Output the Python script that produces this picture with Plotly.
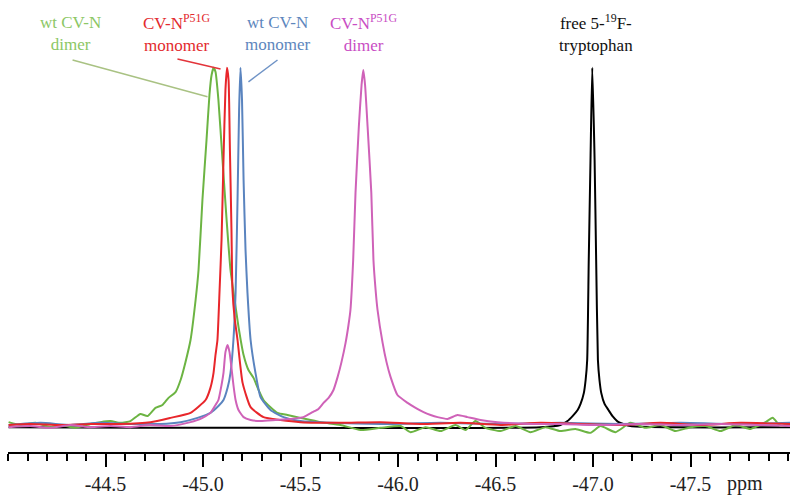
import plotly.graph_objects as go

# ---- data (chemical shift in ppm, normalised intensity) ----
green_ppm = [-44.003, -44.064, -44.141, -44.218, -44.269, -44.346, -44.423, -44.474, -44.526, -44.577,
             -44.628, -44.679, -44.715, -44.756, -44.792, -44.823, -44.859, -44.885, -44.910, -44.936,
             -44.962, -44.977, -44.997, -45.018, -45.033, -45.044, -45.054, -45.064, -45.079, -45.100,
             -45.121, -45.141, -45.162, -45.182, -45.208, -45.233, -45.259, -45.285, -45.310, -45.346,
             -45.382, -45.433, -45.500, -45.603, -45.705, -45.808, -45.910, -46.013, -46.064, -46.141,
             -46.218, -46.295, -46.346, -46.397, -46.449, -46.526, -46.603, -46.679, -46.756, -46.833,
             -46.910, -46.987, -47.038, -47.115, -47.192, -47.269, -47.346, -47.423, -47.500, -47.577,
             -47.654, -47.731, -47.808, -47.885, -47.921, -47.962, -48.013]
green_int = [0.008, 0.000, 0.006, -0.006, 0.000, -0.008, 0.003, 0.008, 0.011, 0.006,
             0.011, 0.031, 0.025, 0.048, 0.056, 0.076, 0.092, 0.126, 0.176, 0.238,
             0.350, 0.434, 0.630, 0.798, 0.924, 0.980, 1.000, 0.989, 0.910, 0.742,
             0.574, 0.434, 0.350, 0.275, 0.196, 0.154, 0.132, 0.098, 0.070, 0.050,
             0.034, 0.028, 0.020, 0.008, 0.000, -0.014, -0.008, -0.003, -0.020, -0.006,
             -0.017, 0.000, -0.014, 0.011, -0.008, -0.017, -0.003, -0.020, -0.006, -0.017,
             -0.011, -0.022, -0.003, -0.020, 0.006, -0.008, 0.000, -0.017, -0.006, -0.003,
             -0.017, 0.000, -0.011, 0.008, 0.020, -0.003, 0.006]

red_ppm = [-44.003, -44.115, -44.269, -44.423, -44.577, -44.731, -44.833, -44.936, -45.013, -45.038,
           -45.054, -45.064, -45.074, -45.085, -45.095, -45.105, -45.115, -45.123, -45.131, -45.138,
           -45.146, -45.151, -45.162, -45.177, -45.203, -45.244, -45.310, -45.397, -45.500, -45.705,
           -45.910, -46.115, -46.321, -46.526, -46.731, -46.936, -47.141, -47.346, -47.551, -47.756,
           -48.013]
red_int = [0.000, 0.003, 0.000, 0.003, 0.003, 0.008, 0.020, 0.034, 0.070, 0.104,
           0.146, 0.196, 0.238, 0.378, 0.518, 0.742, 0.938, 1.000, 0.966, 0.770,
           0.546, 0.378, 0.300, 0.238, 0.118, 0.050, 0.022, 0.014, 0.008, 0.006,
           0.008, 0.003, 0.006, 0.000, 0.006, 0.003, 0.000, 0.006, 0.000, 0.006,
           0.003]

blue_ppm = [-44.003, -44.167, -44.321, -44.474, -44.628, -44.782, -44.885, -44.972, -45.038, -45.079,
            -45.105, -45.126, -45.141, -45.156, -45.167, -45.177, -45.185, -45.192, -45.200, -45.208,
            -45.218, -45.228, -45.244, -45.269, -45.295, -45.346, -45.413, -45.500, -45.654, -45.910,
            -46.218, -46.526, -46.833, -47.141, -47.449, -47.756, -48.013]
blue_int = [0.000, 0.006, 0.000, 0.006, 0.003, 0.003, 0.008, 0.020, 0.034, 0.053,
            0.070, 0.104, 0.146, 0.238, 0.370, 0.630, 0.882, 1.000, 0.910, 0.686,
            0.490, 0.370, 0.238, 0.146, 0.078, 0.042, 0.022, 0.011, 0.006, 0.003,
            0.006, 0.003, 0.006, 0.003, 0.006, 0.003, 0.006]

magenta_ppm = [-44.003, -44.115, -44.218, -44.321, -44.423, -44.526, -44.628, -44.731, -44.833, -44.936,
               -44.987, -45.038, -45.064, -45.079, -45.095, -45.105, -45.115, -45.126, -45.136, -45.146,
               -45.156, -45.167, -45.182, -45.208, -45.244, -45.295, -45.372, -45.449, -45.515, -45.562,
               -45.592, -45.618, -45.644, -45.669, -45.690, -45.710, -45.731, -45.746, -45.756, -45.770,
               -45.782, -45.799, -45.813, -45.822, -45.831, -45.844, -45.863, -45.874, -45.885, -45.895,
               -45.921, -45.941, -45.962, -45.997, -46.049, -46.090, -46.131, -46.167, -46.203, -46.254,
               -46.305, -46.356, -46.423, -46.510, -46.679, -46.833, -47.038, -47.244, -47.449, -47.654,
               -47.859, -48.013]
magenta_int = [-0.006, -0.003, -0.008, 0.000, -0.006, -0.003, -0.006, 0.000, -0.003, 0.008,
               0.017, 0.034, 0.056, 0.070, 0.112, 0.146, 0.204, 0.224, 0.204, 0.160,
               0.112, 0.070, 0.042, 0.022, 0.014, 0.011, 0.014, 0.017, 0.022, 0.036,
               0.045, 0.062, 0.076, 0.098, 0.134, 0.176, 0.230, 0.280, 0.322, 0.462,
               0.650, 0.835, 0.952, 0.994, 0.952, 0.835, 0.650, 0.462, 0.378, 0.322,
               0.230, 0.176, 0.134, 0.084, 0.062, 0.048, 0.036, 0.028, 0.022, 0.017,
               0.028, 0.022, 0.014, 0.008, 0.003, 0.003, 0.000, 0.003, 0.000, 0.003,
               0.000, -0.003]

black_ppm = [-44.003, -46.731, -46.833, -46.869, -46.895, -46.921, -46.936, -46.953, -46.962, -46.970,
             -46.978, -46.987, -46.996, -47.008, -47.016, -47.025, -47.033, -47.042, -47.059, -47.079,
             -47.100, -47.131, -47.192, -48.013]
black_int = [-0.006, -0.006, 0.000, 0.011, 0.025, 0.042, 0.059, 0.090, 0.126, 0.182,
             0.462, 0.742, 1.000, 0.742, 0.462, 0.182, 0.126, 0.090, 0.059, 0.042,
             0.025, 0.008, -0.003, -0.006]

tick_vals = [-44.5, -45.0, -45.5, -46.0, -46.5, -47.0, -47.5]
tick_text = ["-44.5", "-45.0", "-45.5", "-46.0", "-46.5", "-47.0", "-47.5"]

labels = ["wt CV-N<br>dimer", "CV-N<sup>P51G</sup><br>monomer", "wt CV-N<br>monomer",
          "CV-N<sup>P51G</sup><br>dimer", "free 5-<sup>19</sup>F-<br>tryptophan"]
label_ppm = [-44.321, -44.869, -45.382, -45.823, -47.013]
label_colors = ["#8cc765", "#e32a2e", "#5d86bd", "#c94dc4", "#111111"]

# leader lines: (ppm0, int0, ppm1, int1)
leader_green = [-44.331, 1.022, -45.023, 0.919]
leader_red = [-44.869, 1.025, -45.090, 0.997]
leader_blue = [-45.382, 1.022, -45.233, 0.961]

SERIF = "Liberation Serif"

fig = go.Figure()
series = [
    (black_ppm, black_int, "#000000"),
    (green_ppm, green_int, "#6cb443"),
    (blue_ppm, blue_int, "#5a84bf"),
    (red_ppm, red_int, "#e8262b"),
    (magenta_ppm, magenta_int, "#cf62b8"),
]
for xs, ys, c in series:
    fig.add_trace(go.Scatter(x=xs, y=ys, mode="lines",
                             line=dict(color=c, width=2, shape="spline", smoothing=0.5),
                             hoverinfo="skip"))

for txt, xp, col in zip(labels, label_ppm, label_colors):
    fig.add_annotation(x=xp, xref="x", y=0.926, yref="paper", yanchor="middle",
                       text=txt, showarrow=False, align="center",
                       font=dict(family=SERIF, size=17, color=col))

for seg, col in [(leader_green, "#a9c283"), (leader_red, "#e3343a"), (leader_blue, "#6f93c6")]:
    fig.add_shape(type="line", xref="x", yref="y", x0=seg[0], y0=seg[1], x1=seg[2], y1=seg[3],
                  line=dict(color=col, width=1.5))

fig.add_annotation(x=0.968, xref="paper", y=0, yref="paper", yanchor="top", yshift=-18,
                   text="ppm", showarrow=False, font=dict(family=SERIF, size=20, color="#222222"))

fig.update_layout(
    width=800, height=500,
    margin=dict(l=8, r=10, t=0, b=48),
    paper_bgcolor="white", plot_bgcolor="white",
    showlegend=False,
    xaxis=dict(range=[-44.0, -48.01], showgrid=False, zeroline=False,
               showline=True, linecolor="black", linewidth=2,
               ticks="outside", ticklen=13, tickwidth=2, tickcolor="black",
               tickmode="array", tickvals=tick_vals, ticktext=tick_text,
               tickfont=dict(family=SERIF, size=20, color="#222222"),
               minor=dict(ticks="outside", ticklen=7, tickwidth=1.5, tickcolor="black",
                          tickmode="linear", tick0=0, dtick=0.1, showgrid=False)),
    yaxis=dict(visible=False, range=[-0.0756, 1.19]),
)

fig.write_html("out.html", config={"displayModeBar": False},
               post_script="document.body.style.margin='0';document.body.style.overflow='hidden';")
